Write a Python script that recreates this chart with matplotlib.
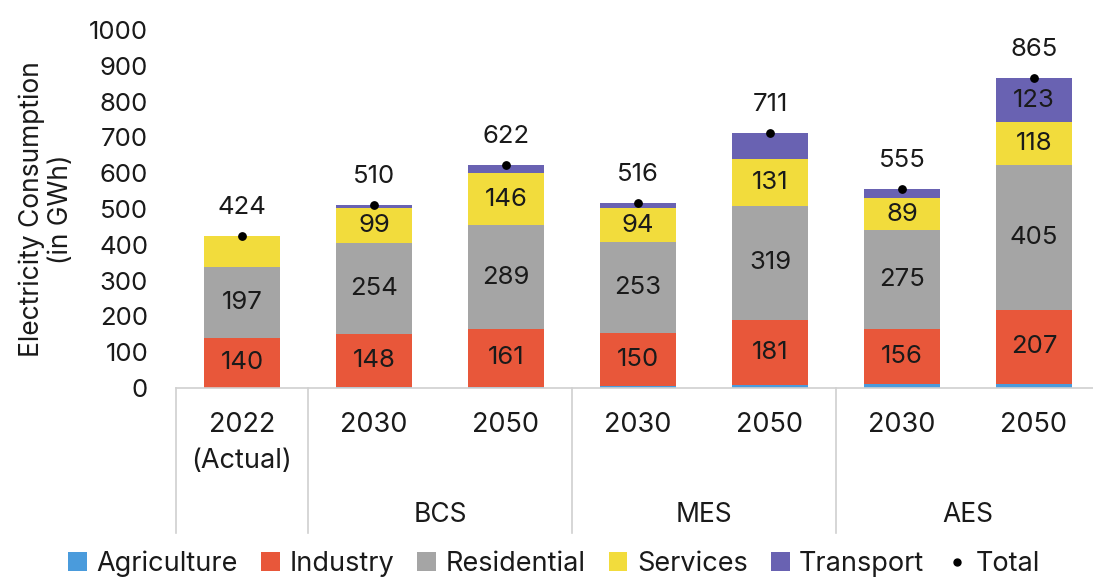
import matplotlib
matplotlib.use("Agg")
import matplotlib.pyplot as plt
from matplotlib.patches import Patch
from matplotlib.lines import Line2D
from matplotlib.transforms import blended_transform_factory

plt.rcParams['font.family'] = ['Inter', 'DejaVu Sans']

# Data (GWh)
years = ["2022\n(Actual)", "2030", "2050", "2030", "2050", "2030", "2050"]
scenarios = ["BCS", "MES", "AES"]
agriculture = [1, 3, 4, 5, 9, 10, 12]
industry = [140, 148, 161, 150, 181, 156, 207]
residential = [197, 254, 289, 253, 319, 275, 405]
services = [86, 99, 146, 94, 131, 89, 118]
transport = [0, 6, 22, 14, 71, 25, 123]
total = [424, 510, 622, 516, 711, 555, 865]

# Which segments carry a value label
industry_lbl = industry
residential_lbl = residential
services_lbl = [None, 99, 146, 94, 131, 89, 118]
transport_lbl = [None, None, None, None, None, None, 123]

series = [
    ("Agriculture", agriculture, "#4A9BDC", [None] * 7),
    ("Industry", industry, "#E8573A", industry_lbl),
    ("Residential", residential, "#A5A5A5", residential_lbl),
    ("Services", services, "#F2DC3C", services_lbl),
    ("Transport", transport, "#6962B2", transport_lbl),
]

TXT = "#1a1a1a"
W, H = 1093, 578
fig = plt.figure(figsize=(W / 100, H / 100), dpi=100)
ax = fig.add_axes([176 / W, (H - 388) / H, 1 - 176 / W, (388 - 30) / H])

x = list(range(len(years)))
bottom = [0] * len(x)
bw = 0.576
for name, vals, color, lbls in series:
    ax.bar(x, vals, bw, bottom=bottom, color=color, label=name, zorder=2)
    for i, (v, b, l) in enumerate(zip(vals, bottom, lbls)):
        if l is not None:
            ax.text(i, b + v / 2, str(l), ha="center", va="center",
                    fontsize=18.5, color=TXT, zorder=3)
    bottom = [b + v for b, v in zip(bottom, vals)]

ax.scatter(x, total, s=28, color="black", zorder=4)
for i, t in enumerate(total):
    ax.text(i, t + 80, str(t), ha="center", va="center", fontsize=18.5,
            color=TXT)

ax.set_ylim(0, 1000)
ax.set_xlim(-0.5, 6.447)
ax.set_yticks(range(0, 1001, 100))
ax.tick_params(axis="y", length=0, pad=20, labelsize=18.5, labelcolor=TXT)
ax.set_xticks([])
for s in ("top", "right", "left"):
    ax.spines[s].set_visible(False)
ax.spines["bottom"].set_color("#D0D0D0")
ax.spines["bottom"].set_linewidth(1.2)

ax.set_ylabel("Electricity Consumption\n(in GWh)", fontsize=19,
              color=TXT, labelpad=11, linespacing=1.15)

# Two-level category axis
tr = blended_transform_factory(ax.transData, ax.transAxes)
for xs in (-0.5, 0.5, 2.5, 4.5, 6.5):
    ax.plot([xs, xs], [0, -0.405], transform=tr, color="#D0D0D0",
            lw=1.2, clip_on=False)
for i, lab in enumerate(years):
    ax.text(i, -0.066, lab, transform=tr, ha="center", va="top",
            fontsize=19.5, color=TXT, linespacing=1.5)
for j, sc in enumerate(scenarios):
    ax.text(1.5 + 2 * j, -0.355, sc, transform=tr, ha="center",
            va="center", fontsize=19, color=TXT)

handles = [Patch(facecolor=c, label=n) for n, _, c, _ in series]
handles.append(Line2D([], [], marker="o", linestyle="none", color="black",
                      markersize=5, label="Total"))
fig.legend(handles=handles, loc="center", bbox_to_anchor=(0.507, 0.024),
           ncol=6, frameon=False, fontsize=19.5, handlelength=0.7,
           handleheight=0.7, handletextpad=0.35, columnspacing=0.85,
           labelcolor=TXT)

fig.savefig("out.png", dpi=100)
